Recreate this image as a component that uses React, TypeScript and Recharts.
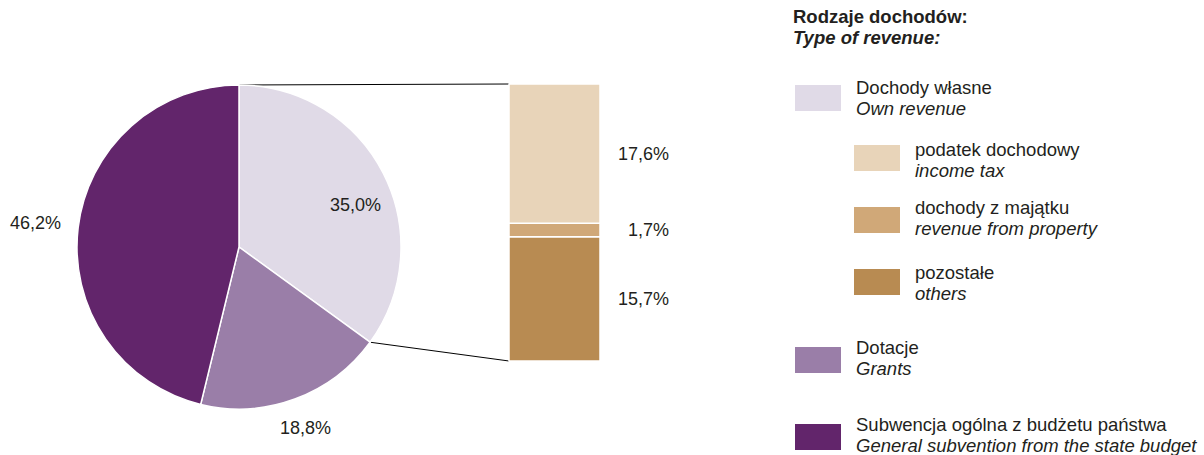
import { Bar, BarChart, Cell, LabelList, Pie, PieChart, XAxis, YAxis } from "recharts"

const pieNames = ["Dochody własne", "Dotacje", "Subwencja ogólna z budżetu państwa"]
const pieValues = [35.0, 18.8, 46.2]
const pieColors = ["#e0dae7", "#9a7ea8", "#62256b"]

const ownNames = ["pozostałe", "dochody z majątku", "podatek dochodowy"]
const ownKeys = ["others", "property", "incomeTax"]
const ownValues = [15.7, 1.7, 17.6]
const ownColors = ["#b88b52", "#d0a878", "#e8d4b9"]

const legendTitle = ["Rodzaje dochodów:", "Type of revenue:"]
const legendPl = ["Dochody własne", "podatek dochodowy", "dochody z majątku", "pozostałe", "Dotacje", "Subwencja ogólna z budżetu państwa"]
const legendEn = ["Own revenue", "income tax", "revenue from property", "others", "Grants", "General subvention from the state budget"]
const legendColors = ["#e0dae7", "#e8d4b9", "#d0a878", "#b88b52", "#9a7ea8", "#62256b"]

const W = 1204
const H = 455
const FONT = '"Liberation Sans", Arial, sans-serif'
const TEXT = "#231f20"
const RADIAN = Math.PI / 180

// layout
const PIE_CX = 239
const PIE_CY = 247
const PIE_R = 162
const labelRadius = [124, 193, 205]
const labelAngleShift = [-7, 0, 0]
const BAR_LEFT = 509
const BAR_RIGHT = 600
const BAR_TOP = 84
const BAR_BOTTOM = 361
const legendRows = [
  { top: 76.5, box: 85, indent: false },
  { top: 138.5, box: 145, indent: true },
  { top: 196.5, box: 207, indent: true },
  { top: 261.5, box: 269, indent: true },
  { top: 336.5, box: 347, indent: false },
  { top: 413.5, box: 424, indent: false },
]

const fmt = (v: number) => v.toFixed(1).replace(".", ",") + "%"

const pieData = pieNames.map((name, i) => ({ name, value: pieValues[i] }))
const barRow: Record<string, number | string> = { name: "own" }
ownKeys.forEach((k, i) => {
  barRow[k] = ownValues[i]
})
const barData = [barRow]

function PieLabel(props: any) {
  const { cx, cy, midAngle, index, value } = props
  const a = (midAngle + labelAngleShift[index]) * RADIAN
  const r = labelRadius[index]
  const x = cx + r * Math.cos(a)
  const y = cy - r * Math.sin(a)
  return (
    <text x={x} y={y} textAnchor="middle" dominantBaseline="central" fill={TEXT} fontSize={18} fontFamily={FONT}>
      {fmt(value)}
    </text>
  )
}

function BarValueLabel(props: any) {
  const { x, y, width, height, value } = props
  return (
    <text
      x={x + width + 69}
      y={y + height / 2}
      textAnchor="end"
      dominantBaseline="central"
      fill={TEXT}
      fontSize={18}
      fontFamily={FONT}
    >
      {fmt(value)}
    </text>
  )
}

export default function App() {
  const ownShare = pieValues[0] / pieValues.reduce((a, b) => a + b, 0)
  const endAngle = (90 - 360 * ownShare) * RADIAN
  const endX = PIE_CX + PIE_R * Math.cos(endAngle)
  const endY = PIE_CY - PIE_R * Math.sin(endAngle)

  return (
    <div style={{ position: "absolute", left: 0, top: 0, width: W, height: H, background: "#fff", fontFamily: FONT }}>
      <svg width={W} height={H} style={{ position: "absolute", left: 0, top: 0 }}>
        <line x1={PIE_CX} y1={PIE_CY - PIE_R} x2={BAR_LEFT} y2={BAR_TOP} stroke="#000" strokeWidth={1} />
        <line x1={endX} y1={endY} x2={BAR_LEFT} y2={BAR_BOTTOM} stroke="#000" strokeWidth={1} />
      </svg>
      <div style={{ position: "absolute", left: 0, top: 0 }}>
        <PieChart width={W} height={H} margin={{ top: 0, right: 0, bottom: 0, left: 0 }}>
          <Pie
            data={pieData}
            dataKey="value"
            nameKey="name"
            cx={PIE_CX}
            cy={PIE_CY}
            outerRadius={PIE_R}
            startAngle={90}
            endAngle={-270}
            stroke="#fff"
            strokeWidth={1.5}
            label={PieLabel}
            labelLine={false}
            isAnimationActive={false}
          >
            {pieData.map((d, i) => (
              <Cell key={d.name} fill={pieColors[i]} />
            ))}
          </Pie>
        </PieChart>
      </div>
      <div style={{ position: "absolute", left: 0, top: 0 }}>
        <BarChart
          width={W}
          height={H}
          data={barData}
          barCategoryGap={0}
          margin={{ top: BAR_TOP, right: W - BAR_RIGHT, bottom: H - BAR_BOTTOM, left: BAR_LEFT }}
        >
          <XAxis dataKey="name" hide />
          <YAxis hide domain={[0, ownValues.reduce((a, b) => a + b, 0)]} />
          {ownKeys.map((k, i) => (
            <Bar key={k} dataKey={k} name={ownNames[i]} stackId="own" fill={ownColors[i]} stroke="#fff" strokeWidth={1.5} isAnimationActive={false}>
              <LabelList dataKey={k} content={BarValueLabel} />
            </Bar>
          ))}
        </BarChart>
      </div>
      <div style={{ position: "absolute", left: 793, top: 5.5, fontSize: 18.5, lineHeight: "21px", fontWeight: "bold", color: TEXT }}>
        <div>{legendTitle[0]}</div>
        <div style={{ fontStyle: "italic" }}>{legendTitle[1]}</div>
      </div>
      {legendRows.map((row, i) => {
        const boxX = row.indent ? 854 : 795
        const textX = row.indent ? 915 : 856
        return (
          <div key={legendPl[i]}>
            <div style={{ position: "absolute", left: boxX, top: row.box, width: 46, height: 26, background: legendColors[i] }} />
            <div style={{ position: "absolute", left: textX, top: row.top, fontSize: 18.5, lineHeight: "21px", color: TEXT, whiteSpace: "nowrap" }}>
              <div>{legendPl[i]}</div>
              <div style={{ fontStyle: "italic" }}>{legendEn[i]}</div>
            </div>
          </div>
        )
      })}
    </div>
  )
}
